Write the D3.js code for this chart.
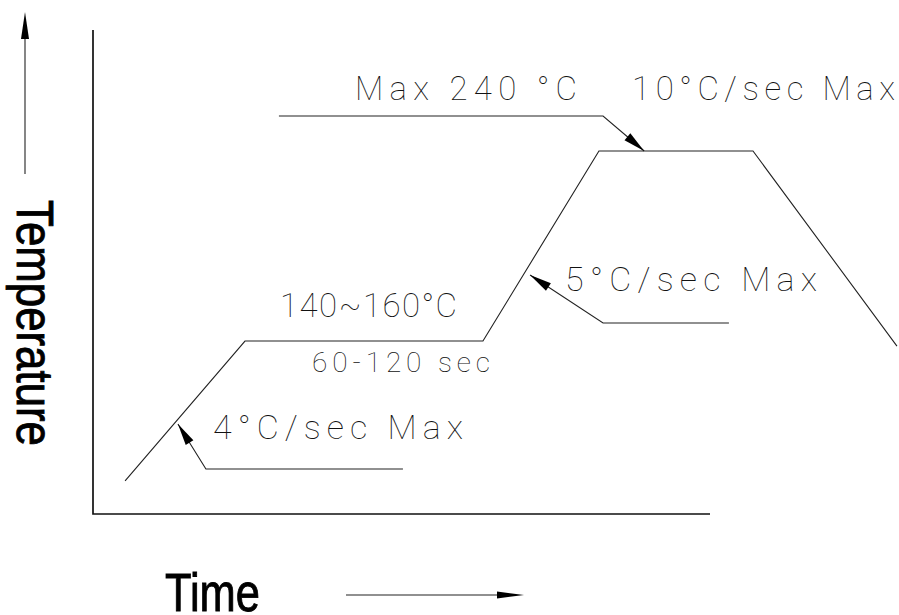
<!DOCTYPE html>
<meta charset="utf-8">
<style>

body {
  margin: 0;
  background: #fff;
}

.axis-line {
  stroke: #111;
  stroke-width: 1.7;
  fill: none;
}

.profile, .leader {
  stroke: #222;
  stroke-width: 1.1;
  fill: none;
}

.cad {
  font-family: "Roboto", "Lato", sans-serif;
  font-weight: 100;
  fill: #111;
}

.title {
  font-family: "Liberation Sans", Arial, sans-serif;
  fill: #000;
  stroke: #000;
  stroke-width: 0.9;
}

</style>
<svg width="899" height="615"></svg>
<script src="https://d3js.org/d3.v7.min.js"></script>
<script>

// profile: time (s) and temperature (°C)
var profileTime = [15.6, 73.9, 189.6, 246.0, 320.9, 390.9];
var profileTemp = [85.7, 152.2, 152.2, 242.5, 242.5, 149.8];

// leader lines, first point is the arrow tip
var peakLeaderTime = [268.0, 248.0, 90.4];
var peakLeaderTemp = [242.5, 259.1, 259.1];
var rampLeaderTime = [212.5, 248.0, 309.2];
var rampLeaderTemp = [183.6, 160.8, 160.8];
var preLeaderTime = [41.3, 54.9, 150.7];
var preLeaderTemp = [112.8, 91.4, 91.4];

var labels = ["Max 240 °C", "10°C/sec Max", "5°C/sec Max", "140~160°C", "60-120 sec", "4°C/sec Max"];
var xTitle = "Time",
    yTitle = "Temperature";

var svg = d3.select("svg"),
    width = +svg.attr("width"),
    height = +svg.attr("height");

var x = d3.scaleLinear().domain([0, 300]).range([93, 710]);
var y = d3.scaleLinear().domain([70, 300]).range([514, 30]);

var line = d3.line()
    .x(function(d) { return x(d[0]); })
    .y(function(d) { return y(d[1]); });

// axes drawn as plain lines, no ticks
svg.append("path")
    .attr("class", "axis-line")
    .attr("d", "M" + x(0) + "," + y.range()[1] + "V" + y(70) + "H" + x(300));

// profile
svg.append("path")
    .attr("class", "profile")
    .attr("d", line(d3.zip(profileTime, profileTemp)));

// leaders with arrow heads
[[peakLeaderTime, peakLeaderTemp], [rampLeaderTime, rampLeaderTemp], [preLeaderTime, preLeaderTemp]]
  .forEach(function(l) {
    var pts = d3.zip(l[0], l[1]);
    svg.append("path")
        .attr("class", "leader")
        .attr("d", line(pts));
    arrowHead(x(pts[1][0]), y(pts[1][1]), x(pts[0][0]), y(pts[0][1]), 22, 4.5);
  });

function arrowHead(x0, y0, x1, y1, len, half) {
  var a = Math.atan2(y1 - y0, x1 - x0),
      bx = x1 - len * Math.cos(a),
      by = y1 - len * Math.sin(a),
      nx = -Math.sin(a) * half,
      ny = Math.cos(a) * half;
  svg.append("path")
      .attr("d", "M" + x1 + "," + y1 + "L" + (bx + nx) + "," + (by + ny) + "L" + (bx - nx) + "," + (by - ny) + "Z")
      .attr("fill", "#000");
}

// CAD style labels: [x, baseline, length, size]
var labelPos = [
  [355, 100, 222, 33],
  [632, 100, 263, 33],
  [565, 291, 252, 34],
  [280, 317, 177, 33],
  [312, 372, 178, 28],
  [213, 439, 250, 34]
];

svg.selectAll("text.cad")
  .data(labels)
  .enter().append("text")
    .attr("class", "cad")
    .attr("x", function(d, i) { return labelPos[i][0]; })
    .attr("y", function(d, i) { return labelPos[i][1]; })
    .attr("textLength", function(d, i) { return labelPos[i][2]; })
    .attr("lengthAdjust", "spacing")
    .style("font-size", function(d, i) { return labelPos[i][3] + "px"; })
    .text(function(d) { return d; });

// axis titles
svg.append("text")
    .attr("class", "title")
    .attr("x", 165)
    .attr("y", 611)
    .attr("textLength", 95)
    .attr("lengthAdjust", "spacingAndGlyphs")
    .style("font-size", "54px")
    .text(xTitle);

svg.append("text")
    .attr("class", "title")
    .attr("transform", "translate(17,200) rotate(90)")
    .attr("textLength", 246)
    .attr("lengthAdjust", "spacingAndGlyphs")
    .style("font-size", "52px")
    .text(yTitle);

// direction arrows next to the titles
svg.append("line")
    .attr("class", "leader")
    .attr("x1", 346).attr("y1", 595)
    .attr("x2", 500).attr("y2", 595);
arrowHead(346, 595, 524, 595, 27, 3.5);

svg.append("line")
    .attr("class", "leader")
    .attr("x1", 25).attr("y1", 174)
    .attr("x2", 25).attr("y2", 35);
arrowHead(25, 174, 25, 12, 27, 4);

</script>
